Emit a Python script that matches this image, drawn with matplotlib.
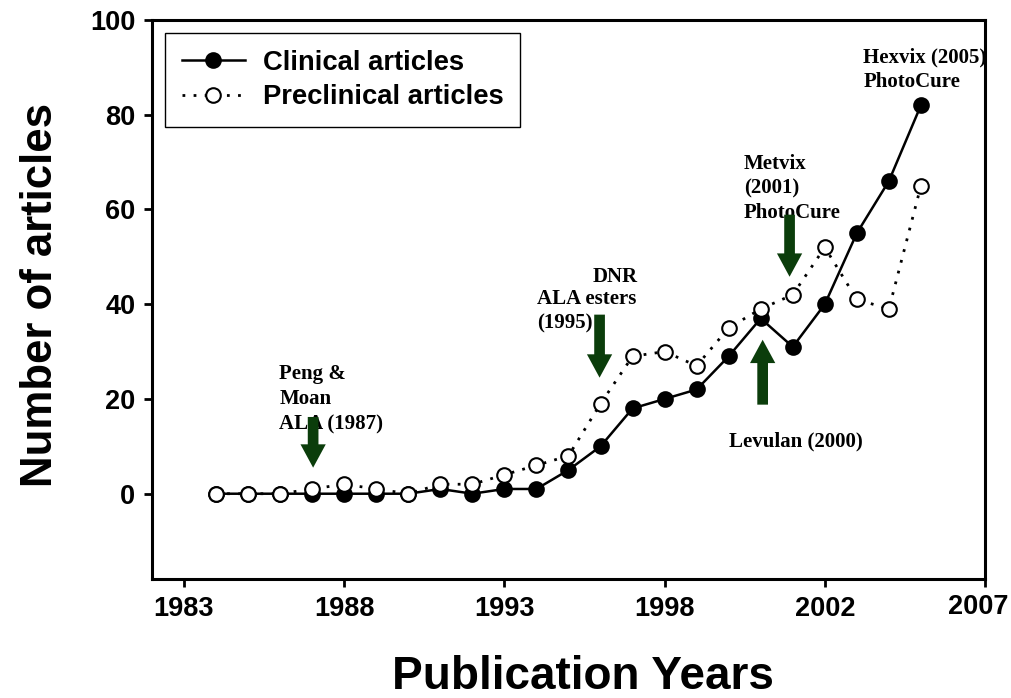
import matplotlib
matplotlib.use("Agg")
import matplotlib.pyplot as plt
from matplotlib.patches import FancyArrowPatch

# Data (x in axis units, one point per year)
years = list(range(1984, 2007))
clinical = [0, 0, 0, 0, 0, 0, 0, 1, 0, 1, 1, 5, 10, 18, 20, 22, 29, 37, 31, 40, 55, 66, 82]
preclinical = [0, 0, 0, 1, 2, 1, 0, 2, 2, 4, 6, 8, 19, 29, 30, 27, 35, 39, 42, 52, 41, 39, 65]

x_ticks = [1983, 1988, 1993, 1998, 2003, 2008]
x_tick_labels = ["1983", "1988", "1993", "1998", "2002", "2007"]
y_ticks = [0, 20, 40, 60, 80, 100]

sans = "Liberation Sans"
serif = "Liberation Serif"
green = "#0b3d0b"

fig = plt.figure(figsize=(10.11, 6.98), dpi=100)
ax = fig.add_axes([0.1503, 0.1705, 0.8240, 0.8009])

ax.plot(years, clinical, color="black", linewidth=1.8, marker="o", markersize=10.5,
        markerfacecolor="black", markeredgecolor="black", markeredgewidth=1.5,
        label="Clinical articles", zorder=3)
ax.plot(years, preclinical, color="black", linewidth=2.0, linestyle=(0, (1, 3)),
        marker="o", markersize=10.5, markerfacecolor="white", markeredgecolor="black",
        markeredgewidth=1.5, label="Preclinical articles", zorder=4)

ax.set_xlim(1982, 2008)
ax.set_ylim(-18, 100)
ax.set_xticks(x_ticks)
# the last label hangs at the figure edge, so it is drawn by hand a little left of its tick
ax.set_xticklabels(x_tick_labels[:-1] + [""])
ax.annotate(x_tick_labels[-1], xy=(x_ticks[-1], 0), xycoords=("data", "axes fraction"),
            xytext=(-5, -10.5), textcoords="offset points", ha="center", va="top",
            family=sans, fontweight="bold", fontsize=19.5)
ax.set_yticks(y_ticks)
for lab in ax.get_xticklabels() + ax.get_yticklabels():
    lab.set_fontfamily(sans)
    lab.set_fontweight("bold")
    lab.set_fontsize(19.5)
ax.tick_params(direction="out", length=6, width=2, pad=6)
ax.tick_params(axis="x", top=False)
ax.tick_params(axis="y", right=False)
for sp in ax.spines.values():
    sp.set_linewidth(2.2)

leg = ax.legend(loc="upper left", bbox_to_anchor=(0.0156, 0.9767), borderaxespad=0,
                frameon=True, fancybox=False, edgecolor="black", framealpha=1,
                handlelength=2.3, handletextpad=0.65, labelspacing=0.3, borderpad=0.62,
                prop={"family": sans, "weight": "bold", "size": 19.7})
leg.get_frame().set_linewidth(1.0)

# annotations
tkw = dict(family=serif, fontweight="bold", fontsize=15, color="black", linespacing=1.33)
ax.text(1985.97, 27.3, "Peng &\nMoan\nALA (1987)", ha="left", va="top", **tkw)
ax.text(1997.16, 45.8, "DNR", ha="right", va="center", **tkw)
ax.text(1994.03, 43.3, "ALA esters\n(1995)", ha="left", va="top", **tkw)
ax.text(2000.0, 11, "Levulan (2000)", ha="left", va="center", **tkw)
ax.text(2000.47, 71.8, "Metvix\n(2001)\nPhotoCure", ha="left", va="top", **tkw)
ax.text(2004.2, 94.2, "Hexvix (2005)\nPhotoCure", ha="left", va="top", **tkw)

arrows = [(1987.03, 16.2, 5.5), (1995.97, 37.8, 24.5), (2001.06, 18.8, 32.5), (2001.9, 58.9, 45.8)]
for ax_x, y0, y1 in arrows:
    arr = FancyArrowPatch((ax_x, y0), (ax_x, y1),
                          arrowstyle="simple,head_width=1.3,head_length=1.2,tail_width=0.55",
                          mutation_scale=14, color=green, linewidth=0, zorder=5,
                          shrinkA=0, shrinkB=0)
    ax.add_patch(arr)

fig.text(0.577, 0.03, "Publication Years", ha="center", va="center",
         family=sans, fontweight="bold", fontsize=33)
fig.text(0.0396, 0.578, "Number of articles", ha="center", va="center", rotation=90,
         family=sans, fontweight="bold", fontsize=31.5)

fig.savefig("out.png", dpi=100)
